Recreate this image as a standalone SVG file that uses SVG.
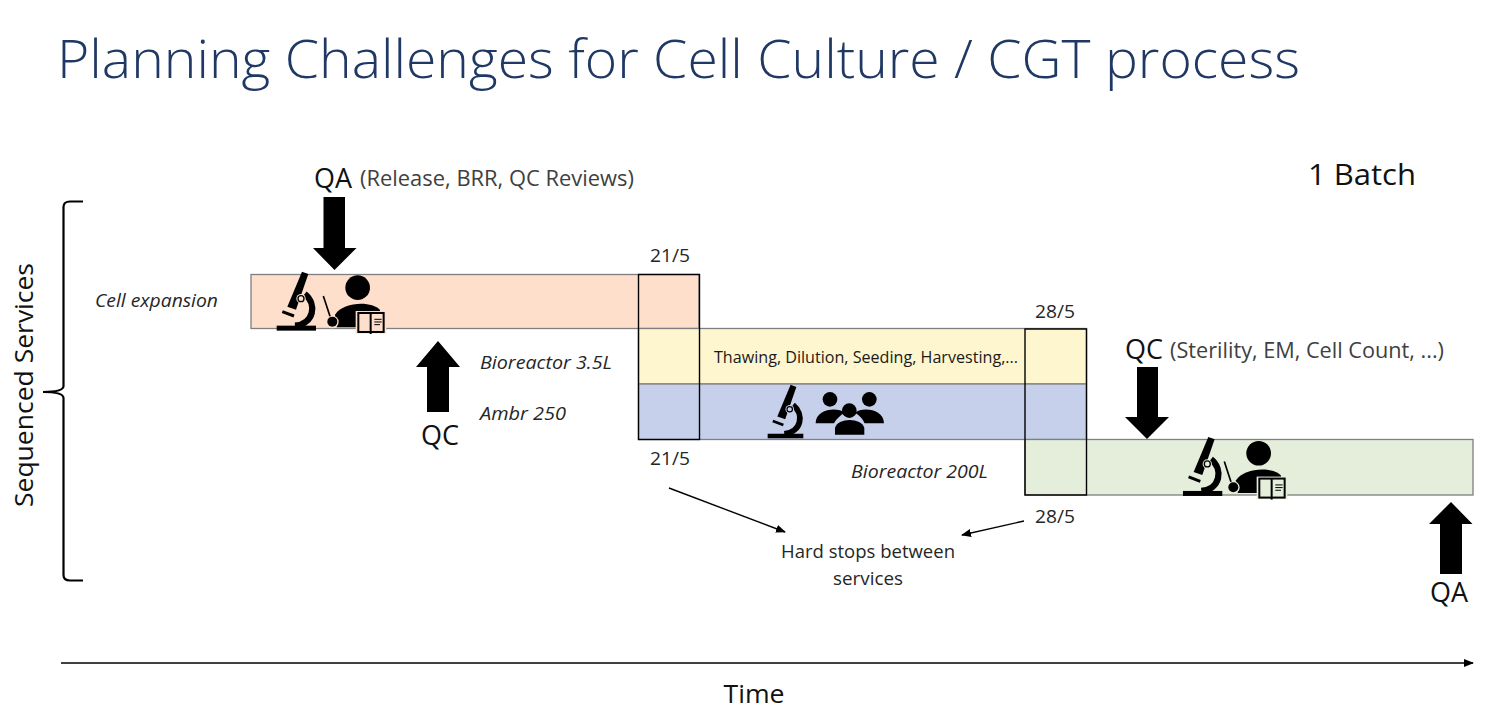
<svg xmlns="http://www.w3.org/2000/svg" width="1491" height="714" viewBox="0 0 1491 714">
<style>
text{font-family:"Open Sans","Noto Sans","Liberation Sans",sans-serif;fill:#262626}
.lab{font-size:17.5px;font-style:italic}
.dt{font-size:17.5px}
.big{font-size:27px;fill:#111}
.par{font-size:21px;fill:#404040}
.bar{stroke:#7f7f7f;stroke-width:1.3}
.stop{fill:none;stroke:#000;stroke-width:1.4}
.bk{fill:var(--bg)}
</style>
<defs>
<marker id="ah" markerWidth="10" markerHeight="8" refX="9" refY="4" orient="auto" markerUnits="userSpaceOnUse"><path d="M0 0L10 4L0 8Z" fill="#000"/></marker>
<g id="scope">
<rect x="110" y="497" width="118" height="15"/>
<path d="M194 402C232 432 222 492 165 497" fill="none" stroke="#000" stroke-width="19"/>
<path d="M186 335L205 342L168 449L142 440Z"/>
<circle cx="183" cy="416" r="14" class="bk"/>
<circle cx="183" cy="416" r="9" fill="none" stroke="#000" stroke-width="4"/>
<path d="M127 455L162 468" stroke="#000" stroke-width="9"/>
</g>
<g id="reader">
<circle cx="353" cy="383" r="37"/>
<path d="M285 464C310 425 395 422 420 450V502H290Z"/>
<path d="M250 408L272 475" stroke="#000" stroke-width="5"/>
<circle cx="277" cy="486" r="19" class="bk"/>
<circle cx="277" cy="485" r="15"/>
<rect x="347" y="453" width="92" height="68" class="bk"/>
<rect x="355" y="459" width="76" height="57" class="bk" stroke="#000" stroke-width="6"/>
<path d="M392 459V522" stroke="#000" stroke-width="6"/>
<path d="M403 478H425M403 486H425M403 494H420" stroke="#000" stroke-width="3"/>
</g>
</defs>
<text x="57" y="78" font-size="53" textLength="1243" lengthAdjust="spacingAndGlyphs" font-weight="300" style="fill:#1f3864;font-size:53px">Planning Challenges for Cell Culture / CGT process</text>

<g id="bars">
<rect id="cell-expansion-bar" class="bar" x="251" y="274.5" width="448" height="54" fill="#fddfcc"/>
<rect id="bioreactor-35l-bar" class="bar" x="638.5" y="328.5" width="448" height="55.5" fill="#fdf6cf"/>
<rect id="ambr-250-bar" class="bar" x="638.5" y="384" width="448" height="55.5" fill="#c6d0eb"/>
<rect id="bioreactor-200l-bar" class="bar" x="1025" y="439.5" width="448" height="55.5" fill="#e4eeda"/>
</g>
<g id="hard-stops">
<rect class="stop" x="638.5" y="274.5" width="61" height="165"/>
<rect class="stop" x="1025" y="329" width="61.5" height="166"/>
</g>

<g id="icons">
<use href="#scope" style="--bg:#fddfcc" transform="translate(240 160) scale(.3333)"/>
<use href="#reader" style="--bg:#fddfcc" transform="translate(240 160) scale(.3333)"/>
<use href="#scope" style="--bg:#e4eeda" transform="translate(1146.3 325.3) scale(.3333)"/>
<use href="#reader" style="--bg:#e4eeda" transform="translate(1141 325.6) scale(.3333)"/>
<use href="#scope" style="--bg:#c6d0eb" transform="translate(734.4 283.5) scale(.3023)"/>
<g id="team" transform="translate(630 260) scale(.3333)">
<circle cx="600" cy="418" r="22"/><circle cx="718" cy="418" r="22"/>
<path d="M557 490C557 445 625 440 643 458C630 468 620 475 612 490Z"/>
<path d="M762 490C762 445 694 440 676 458C689 468 698 475 704 490Z"/>
<circle cx="658" cy="452" r="22"/>
<path d="M615 524V504C622 472 696 472 703 504V524Z"/>
</g>
</g>

<g id="connectors">
<path id="qa-down" d="M323.500 197H345V248H356.500L334.500 270L313 248H323.500Z"/>
<path id="qc-up" d="M438 341L460 367H449V412H427V367H416Z"/>
<path id="qc-down" d="M1137 367H1158V417H1169L1147 439L1125 417H1137Z"/>
<path id="qa-up" d="M1451 502L1472.500 524H1462V574H1440V524H1429Z"/>
<path id="time-axis" d="M61 663H1473" stroke="#000" stroke-width="1.400" fill="none" marker-end="url(#ah)"/>
<path id="stop-arrow-left" d="M669 488L785 532" stroke="#000" stroke-width="1.400" fill="none" marker-end="url(#ah)"/>
<path id="stop-arrow-right" d="M1024 521L962 535" stroke="#000" stroke-width="1.400" fill="none" marker-end="url(#ah)"/>
<path id="brace" d="M83 201.500H70Q63.500 201.500 63.500 207V386Q63.500 392 43 392Q63.500 392 63.500 398V575Q63.500 580.500 70 580.500H83" fill="none" stroke="#000" stroke-width="2.200"/>
</g>

<g id="labels">
<text class="big" x="314" y="188" textLength="38" lengthAdjust="spacingAndGlyphs">QA</text>
<text class="par" x="360" y="186" textLength="274" lengthAdjust="spacingAndGlyphs">(Release, BRR,  QC Reviews)</text>
<text x="1308" y="185" style="font-size:30px;fill:#111" textLength="108" lengthAdjust="spacingAndGlyphs">1 Batch</text>
<text class="lab" x="95" y="307" textLength="123" lengthAdjust="spacingAndGlyphs">Cell expansion</text>
<text class="lab" x="480" y="369" textLength="132" lengthAdjust="spacingAndGlyphs">Bioreactor 3.5L</text>
<text class="lab" x="480" y="420" textLength="86" lengthAdjust="spacingAndGlyphs">Ambr 250</text>
<text class="lab" x="851" y="478" textLength="137" lengthAdjust="spacingAndGlyphs">Bioreactor 200L</text>
<text class="dt" x="650" y="262" textLength="40" lengthAdjust="spacingAndGlyphs">21/5</text>
<text class="dt" x="650" y="465" textLength="40" lengthAdjust="spacingAndGlyphs">21/5</text>
<text class="dt" x="1035" y="318" textLength="40" lengthAdjust="spacingAndGlyphs">28/5</text>
<text class="dt" x="1035" y="523" textLength="40" lengthAdjust="spacingAndGlyphs">28/5</text>
<text x="714" y="363" style="font-size:16px;fill:#1a1a1a" textLength="304" lengthAdjust="spacingAndGlyphs">Thawing, Dilution, Seeding, Harvesting,...</text>
<text class="big" x="1125" y="359" textLength="38" lengthAdjust="spacingAndGlyphs">QC</text>
<text class="par" x="1170" y="358" textLength="274" lengthAdjust="spacingAndGlyphs">(Sterility, EM, Cell Count, ...)</text>
<text class="big" x="421" y="445" textLength="38" lengthAdjust="spacingAndGlyphs">QC</text>
<text class="big" x="1430" y="602" textLength="38" lengthAdjust="spacingAndGlyphs">QA</text>
<text class="dt" x="868" y="558" text-anchor="middle" textLength="174" lengthAdjust="spacingAndGlyphs">Hard stops between</text>
<text class="dt" x="868" y="585" text-anchor="middle" textLength="70" lengthAdjust="spacingAndGlyphs">services</text>
<text x="754" y="703" text-anchor="middle" style="font-size:25px;fill:#111" textLength="61" lengthAdjust="spacingAndGlyphs">Time</text>
<text transform="translate(33 385) rotate(-90)" text-anchor="middle" style="font-size:26px;fill:#111" textLength="244" lengthAdjust="spacingAndGlyphs">Sequenced Services</text>
</g>
</svg>
